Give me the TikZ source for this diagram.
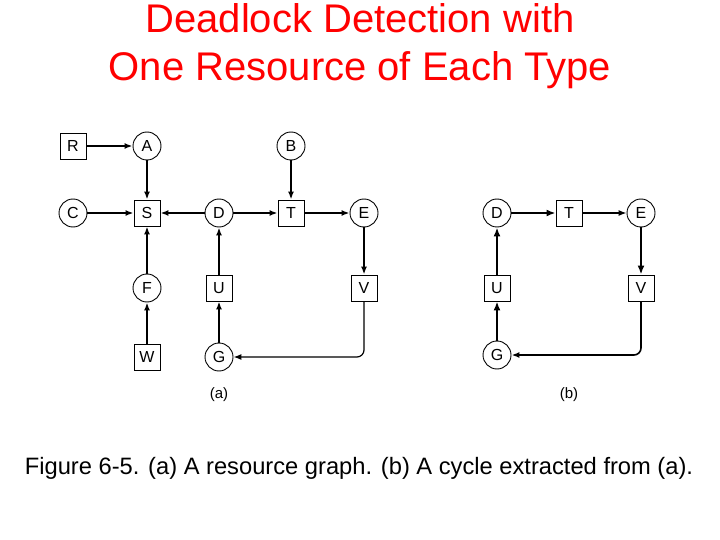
\documentclass[tikz,border=0pt]{standalone}
\usepackage{fontspec}
\setmainfont{Liberation Sans}
\usetikzlibrary{positioning, arrows.meta}

\begin{document}
\begin{tikzpicture}[
  x=1pt, y=-1pt,
  res/.style={draw, line width=0.9pt, minimum size=26pt, inner sep=0pt, font=\fontsize{16}{16}\selectfont},
  proc/.style={draw, line width=0.9pt, circle, minimum size=28pt, inner sep=0pt, font=\fontsize{16}{16}\selectfont},
  arr/.style={-{Latex[length=8pt, width=6pt]}, line width=1.8pt},
  arrthin/.style={-{Latex[length=8pt, width=6pt]}, line width=1.2pt},
  arrbold/.style={-{Latex[length=9pt, width=7pt]}, line width=2.8pt}
]
  \useasboundingbox (0,0) rectangle (720,540);

  % title and caption
  \node[text=red, align=center, font=\fontsize{40}{48}\selectfont] (title) at (360,46)
    {Deadlock Detection with\\One Resource of Each Type};
  \node[font=\fontsize{23.7}{24}\selectfont] (caption) at (359,468)
    {Figure 6-5. (a) A resource graph. (b) A cycle extracted from (a).};

  % (a) resource graph
  \node[res]  (R) at (73,146)  {R};
  \node[proc] (A) at (147,146) {A};
  \node[proc] (B) at (291,146) {B};
  \node[proc] (C) at (73,213)  {C};
  \node[res]  (S) at (147,213) {S};
  \node[proc] (D) at (219,213) {D};
  \node[res]  (T) at (291,213) {T};
  \node[proc] (E) at (364,213) {E};
  \node[proc] (F) at (147,288) {F};
  \node[res]  (U) at (219,288) {U};
  \node[res]  (V) at (364,288) {V};
  \node[res]  (W) at (147,357) {W};
  \node[proc] (G) at (219,357) {G};
  \node[font=\fontsize{15}{15}\selectfont] (la) at (219,395) {(a)};

  \draw[arr] (R) -- (A);
  \draw[arr] (A) -- (S);
  \draw[arr] (C) -- (S);
  \draw[arr] (D) -- (S);
  \draw[arr] (D) -- (T);
  \draw[arr] (B) -- (T);
  \draw[arr] (T) -- (E);
  \draw[arr] (E) -- (V);
  \draw[arr] (F) -- (S);
  \draw[arr] (W) -- (F);
  \draw[arr] (U) -- (D);
  \draw[arr] (G) -- (U);
  \draw[arrthin, rounded corners=7pt] (V) |- (G);

  % (b) cycle
  \node[proc] (bD) at (497,213) {D};
  \node[res]  (bT) at (569,213) {T};
  \node[proc] (bE) at (641,213) {E};
  \node[res]  (bU) at (497,288) {U};
  \node[res]  (bV) at (641,288) {V};
  \node[proc] (bG) at (497,355) {G};
  \node[font=\fontsize{15}{15}\selectfont] (lb) at (569,395) {(b)};

  \draw[arrbold] (bD) -- (bT);
  \draw[arrthin] (bT) -- (bE);
  \draw[arrbold] (bE) -- (bV);
  \draw[arrthin, line width=1.6pt, rounded corners=7pt] (bV) |- (bG);
  \draw[arrbold] (bG) -- (bU);
  \draw[arrbold] (bU) -- (bD);
\end{tikzpicture}
\end{document}
